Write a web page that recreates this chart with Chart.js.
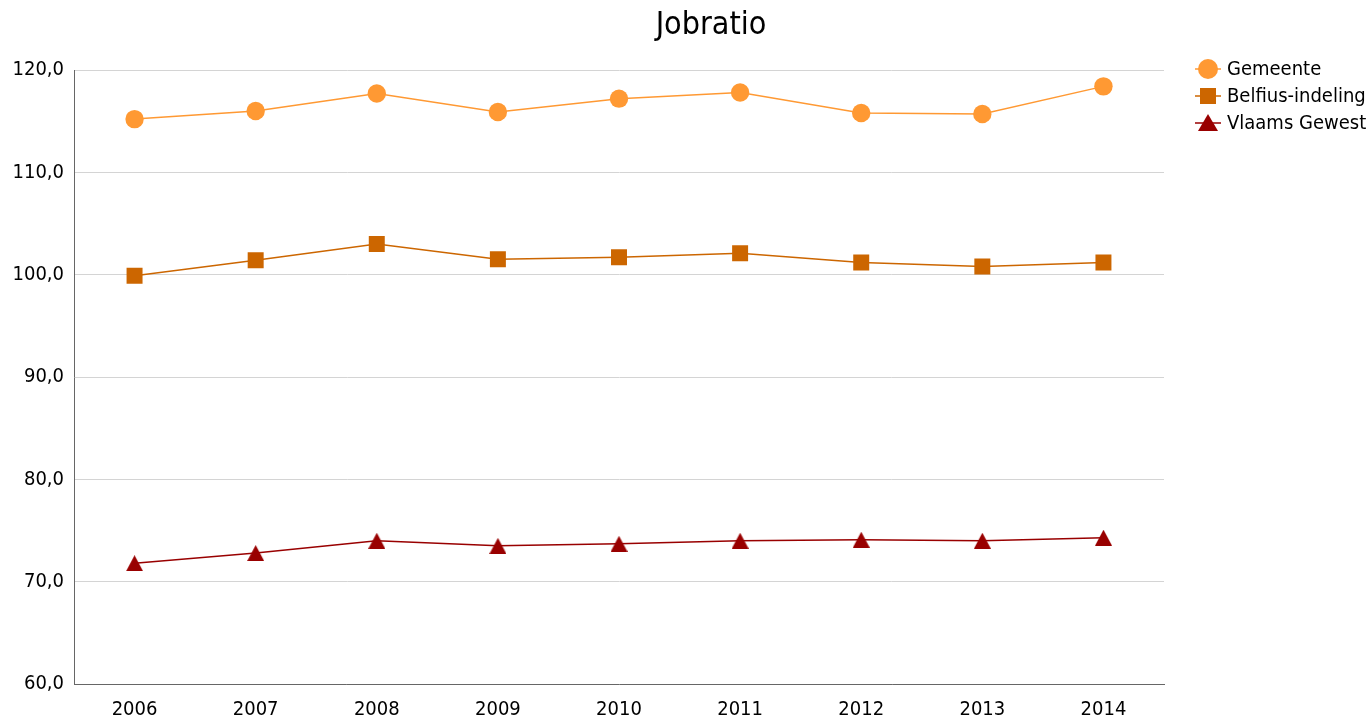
<!DOCTYPE html>
<html>
<head>
<meta charset="utf-8">
<title>Jobratio</title>
<script src="https://cdn.jsdelivr.net/npm/chart.js@4/dist/chart.umd.min.js"></script>
<style>
  html, body { margin:0; padding:0; background:#fff; }
  #wrap { width:1372px; height:717px; position:relative; }
</style>
</head>
<body>
<div id="wrap"><canvas id="chart"></canvas></div>
<script>
const years = ['2006','2007','2008','2009','2010','2011','2012','2013','2014'];
const gemeente = [115.2, 116.0, 117.7, 115.9, 117.2, 117.8, 115.8, 115.7, 118.4];
const belfius = [99.9, 101.4, 103.0, 101.5, 101.7, 102.1, 101.2, 100.8, 101.2];
const vlaams = [71.8, 72.8, 74.0, 73.5, 73.7, 74.0, 74.1, 74.0, 74.3];
const yTicks = [60, 70, 80, 90, 100, 110, 120];

const FONT = '"DejaVu Sans Condensed", "DejaVu Sans", sans-serif';

// triangle marker whose box (not centroid) sits on the data point
function triangleMarker(color){
  const c = document.createElement('canvas');
  c.width = 17; c.height = 16;
  const g = c.getContext('2d');
  g.fillStyle = color;
  g.beginPath(); g.moveTo(8.5, 0); g.lineTo(17, 16); g.lineTo(0, 16); g.closePath(); g.fill();
  return c;
}

const series = [
  { label:'Gemeente', data:gemeente, color:'#ff9933', style:'circle', r:9.2 },
  { label:'Belfius-indeling', data:belfius, color:'#cc6600', style:'rect', r:11.3 },
  { label:'Vlaams Gewest', data:vlaams, color:'#990000', style:'triangle', r:9 }
];

// title + legend drawn by hand so the legend can show line-through-marker
const extras = {
  id:'extras',
  afterDraw(chart){
    const ctx = chart.ctx;
    ctx.save();
    ctx.fillStyle = '#000';
    ctx.font = '32px ' + FONT;
    ctx.textAlign = 'center';
    ctx.textBaseline = 'middle';
    ctx.fillText('Jobratio', 711, 26);

    ctx.font = '20px ' + FONT;
    ctx.textAlign = 'left';
    series.forEach((s, i) => {
      const y = 69 + i * 27, x = 1208;
      ctx.strokeStyle = s.color;
      ctx.lineWidth = 1.5;
      ctx.beginPath(); ctx.moveTo(x - 13, y); ctx.lineTo(x + 13, y); ctx.stroke();
      ctx.fillStyle = s.color;
      ctx.beginPath();
      if (s.style === 'circle') ctx.arc(x, y, 10, 0, Math.PI * 2);
      else if (s.style === 'rect') ctx.rect(x - 8, y - 8, 16, 16);
      else { ctx.moveTo(x, y - 9); ctx.lineTo(x + 10, y + 8); ctx.lineTo(x - 10, y + 8); ctx.closePath(); }
      ctx.fill();
      ctx.fillStyle = '#000';
      ctx.fillText(s.label, x + 19, y + 1);
    });
    ctx.restore();
  }
};

new Chart(document.getElementById('chart'), {
  type:'line',
  data:{
    labels:years,
    datasets:series.map(s => ({
      label:s.label,
      data:s.data,
      borderColor:s.color,
      backgroundColor:s.color,
      borderWidth:1.5,
      pointStyle:s.style === 'triangle' ? triangleMarker(s.color) : s.style,
      pointRadius:s.r,
      pointHoverRadius:s.r,
      pointBorderWidth:0,
      tension:0
    }))
  },
  options:{
    responsive:true,
    maintainAspectRatio:false,
    animation:false,
    layout:{ padding:{ top:70, right:208, left:0, bottom:0 } },
    plugins:{ legend:{ display:false }, title:{ display:false }, tooltip:{ enabled:false } },
    scales:{
      x:{
        offset:true,
        grid:{ display:false, drawTicks:false },
        border:{ color:'#666', width:1 },
        ticks:{ color:'#000', font:{ family:FONT, size:20 }, padding:14, maxRotation:0 },
        afterFit(scale){ scale.height = 33; }
      },
      y:{
        min:60, max:120,
        afterBuildTicks(scale){ scale.ticks = yTicks.map(v => ({ value:v })); },
        grid:{ color:'#d4d4d4', drawTicks:false },
        border:{ color:'#666', width:1 },
        ticks:{ color:'#000', font:{ family:FONT, size:20 }, padding:10,
          callback:v => v.toFixed(1).replace('.', ',') },
        afterFit(scale){ scale.width = 74; }
      }
    }
  },
  plugins:[extras]
});
</script>
</body>
</html>
